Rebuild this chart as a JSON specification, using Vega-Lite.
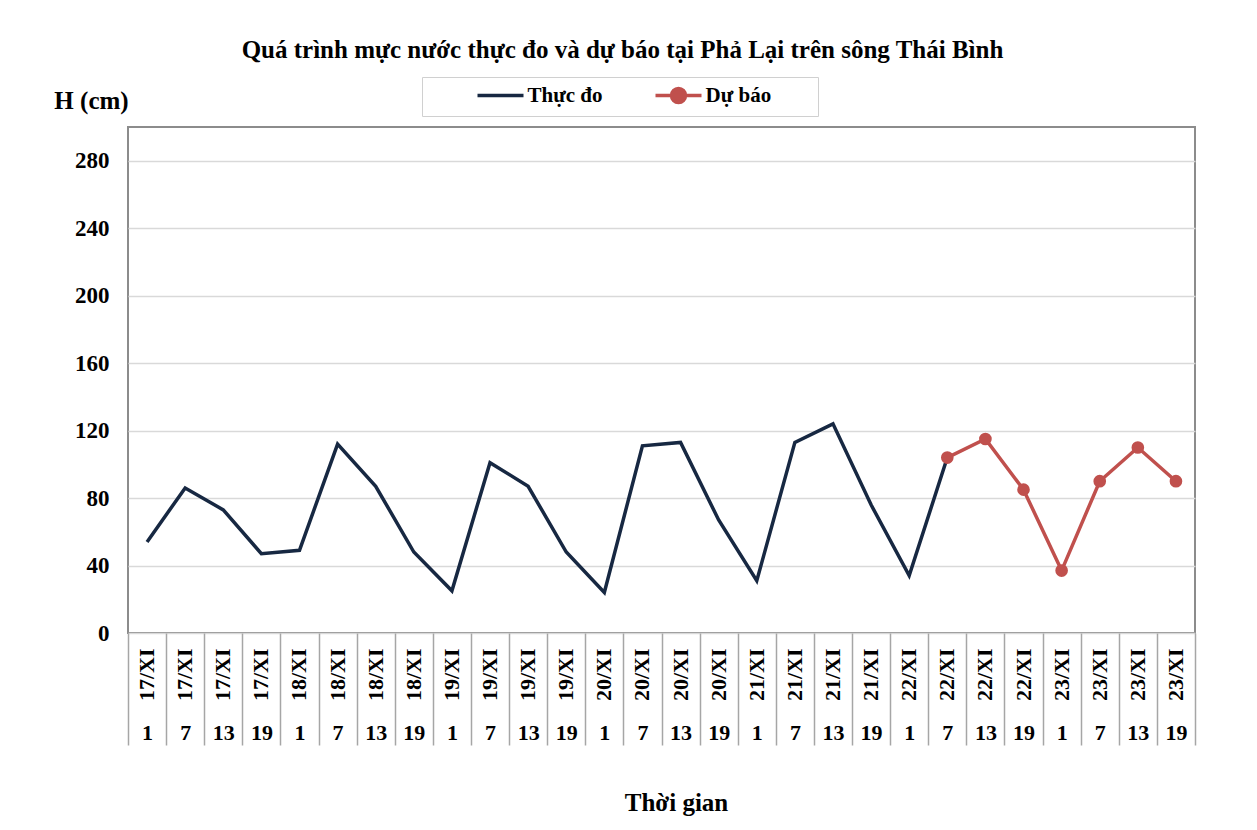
{
  "$schema": "https://vega.github.io/schema/vega-lite/v6.json",
  "width": 1067,
  "height": 506,
  "autosize": {"type": "none"},
  "padding": {"left": 128, "top": 127, "right": 62, "bottom": 197},
  "background": "white",
  "config": {
    "font": "Liberation Serif",
    "view": {"stroke": "#8c8c8c", "strokeWidth": 2},
    "axis": {"labelFont": "Liberation Serif", "labelFontWeight": "bold", "labelColor": "black", "titleFont": "Liberation Serif", "titleFontWeight": "bold", "titleColor": "black"}
  },
  "title": {
    "text": "Quá trình mực nước thực đo và dự báo tại Phả Lại trên sông Thái Bình",
    "anchor": "middle",
    "dx": -39,
    "fontSize": 25,
    "font": "Liberation Serif",
    "fontWeight": "bold",
    "color": "black",
    "offset": 14
  },
  "data": {
    "values": [
      {"key": "17/XI 1", "series": "Thực đo", "h": 54},
      {"key": "17/XI 7", "series": "Thực đo", "h": 86},
      {"key": "17/XI 13", "series": "Thực đo", "h": 73},
      {"key": "17/XI 19", "series": "Thực đo", "h": 47},
      {"key": "18/XI 1", "series": "Thực đo", "h": 49},
      {"key": "18/XI 7", "series": "Thực đo", "h": 112},
      {"key": "18/XI 13", "series": "Thực đo", "h": 87},
      {"key": "18/XI 19", "series": "Thực đo", "h": 48},
      {"key": "19/XI 1", "series": "Thực đo", "h": 25},
      {"key": "19/XI 7", "series": "Thực đo", "h": 101},
      {"key": "19/XI 13", "series": "Thực đo", "h": 87},
      {"key": "19/XI 19", "series": "Thực đo", "h": 48},
      {"key": "20/XI 1", "series": "Thực đo", "h": 24},
      {"key": "20/XI 7", "series": "Thực đo", "h": 111},
      {"key": "20/XI 13", "series": "Thực đo", "h": 113},
      {"key": "20/XI 19", "series": "Thực đo", "h": 67},
      {"key": "21/XI 1", "series": "Thực đo", "h": 31},
      {"key": "21/XI 7", "series": "Thực đo", "h": 113},
      {"key": "21/XI 13", "series": "Thực đo", "h": 124},
      {"key": "21/XI 19", "series": "Thực đo", "h": 76},
      {"key": "22/XI 1", "series": "Thực đo", "h": 34},
      {"key": "22/XI 7", "series": "Thực đo", "h": 104},
      {"key": "22/XI 7", "series": "Dự báo", "h": 104},
      {"key": "22/XI 13", "series": "Dự báo", "h": 115},
      {"key": "22/XI 19", "series": "Dự báo", "h": 85},
      {"key": "23/XI 1", "series": "Dự báo", "h": 37},
      {"key": "23/XI 7", "series": "Dự báo", "h": 90},
      {"key": "23/XI 13", "series": "Dự báo", "h": 110},
      {"key": "23/XI 19", "series": "Dự báo", "h": 90}
    ]
  },
  "resolve": {"axis": {"x": "independent"}},
  "layer": [
    {
      "mark": {"type": "line", "strokeWidth": 3.5},
      "encoding": {
        "x": {
          "field": "key",
          "type": "ordinal",
          "scale": {
            "type": "band",
            "paddingInner": 0,
            "paddingOuter": 0,
            "domain": ["17/XI 1", "17/XI 7", "17/XI 13", "17/XI 19", "18/XI 1", "18/XI 7", "18/XI 13", "18/XI 19", "19/XI 1", "19/XI 7", "19/XI 13", "19/XI 19", "20/XI 1", "20/XI 7", "20/XI 13", "20/XI 19", "21/XI 1", "21/XI 7", "21/XI 13", "21/XI 19", "22/XI 1", "22/XI 7", "22/XI 13", "22/XI 19", "23/XI 1", "23/XI 7", "23/XI 13", "23/XI 19"]
          },
          "axis": {
            "orient": "bottom",
            "title": null,
            "domain": false,
            "ticks": false,
            "labelAngle": -90,
            "labelAlign": "right",
            "labelBaseline": "middle",
            "labelPadding": 15,
            "labelFontSize": 22,
            "labelExpr": "split(datum.value, ' ')[0]"
          }
        },
        "y": {
          "field": "h",
          "type": "quantitative",
          "scale": {"domain": [0, 300], "nice": false},
          "axis": {
            "values": [0, 40, 80, 120, 160, 200, 240, 280],
            "domain": false,
            "ticks": false,
            "grid": true,
            "gridColor": "#d9d9d9",
            "gridWidth": 1.5,
            "labelFontSize": 23,
            "labelPadding": 19,
            "title": "H (cm)",
            "titleAngle": 0,
            "titleFontSize": 25,
            "titleAlign": "center",
            "titleBaseline": "middle",
            "titleX": -37,
            "titleY": -27
          }
        },
        "color": {
          "field": "series",
          "type": "nominal",
          "scale": {"domain": ["Thực đo", "Dự báo"], "range": ["#172842", "#c0504d"]},
          "legend": {
            "title": "\u00a0",
            "titleOrient": "right",
            "titleFontSize": 4,
            "titlePadding": 40,
            "orient": "none",
            "direction": "horizontal",
            "legendX": 294,
            "legendY": -50,
            "padding": 6.5,
            "strokeColor": "#d0d0d0",
            "labelFont": "Liberation Serif",
            "labelFontWeight": "bold",
            "labelFontSize": 21,
            "labelColor": "black",
            "symbolOffset": 60,
            "labelOffset": 15,
            "columnPadding": 3,
            "symbolSize": 400,
            "symbolStrokeWidth": 3.5,
            "encode": {
              "symbols": {
                "update": {
                  "shape": {"signal": "datum.value === 'Dự báo' ? 'M-2.3,0L2.3,0M0.7,0A0.7,0.7,0,1,1,-0.7,0A0.7,0.7,0,1,1,0.7,0Z' : 'M-2.3,0L2.3,0M0,-0.7M0,0.7'"},
                  "fill": {"signal": "datum.value === 'Dự báo' ? '#c0504d' : 'transparent'"},
                  "stroke": {"signal": "scale('color', datum.value)"},
                  "strokeWidth": {"value": 3.5},
                  "opacity": {"value": 1}
                }
              }
            }
          }
        }
      }
    },
    {
      "transform": [{"filter": "datum.series === 'Dự báo'"}],
      "mark": {"type": "point", "filled": true, "size": 160, "opacity": 1},
      "encoding": {
        "x": {
          "field": "key",
          "type": "ordinal",
          "axis": {
            "orient": "bottom",
            "title": "Thời gian",
            "titleFontSize": 25,
            "titleX": 548,
            "titleY": 169,
            "titleBaseline": "middle",
            "domain": false,
            "ticks": true,
            "tickBand": "extent",
            "tickSize": 112,
            "tickColor": "#a6a6a6",
            "tickWidth": 1.5,
            "labelAngle": 0,
            "labelAlign": "center",
            "labelBaseline": "middle",
            "labelPadding": -13,
            "labelFontSize": 22,
            "labelExpr": "split(datum.value, ' ')[1]"
          }
        },
        "y": {"field": "h", "type": "quantitative"},
        "color": {"field": "series", "type": "nominal"}
      }
    }
  ]
}
